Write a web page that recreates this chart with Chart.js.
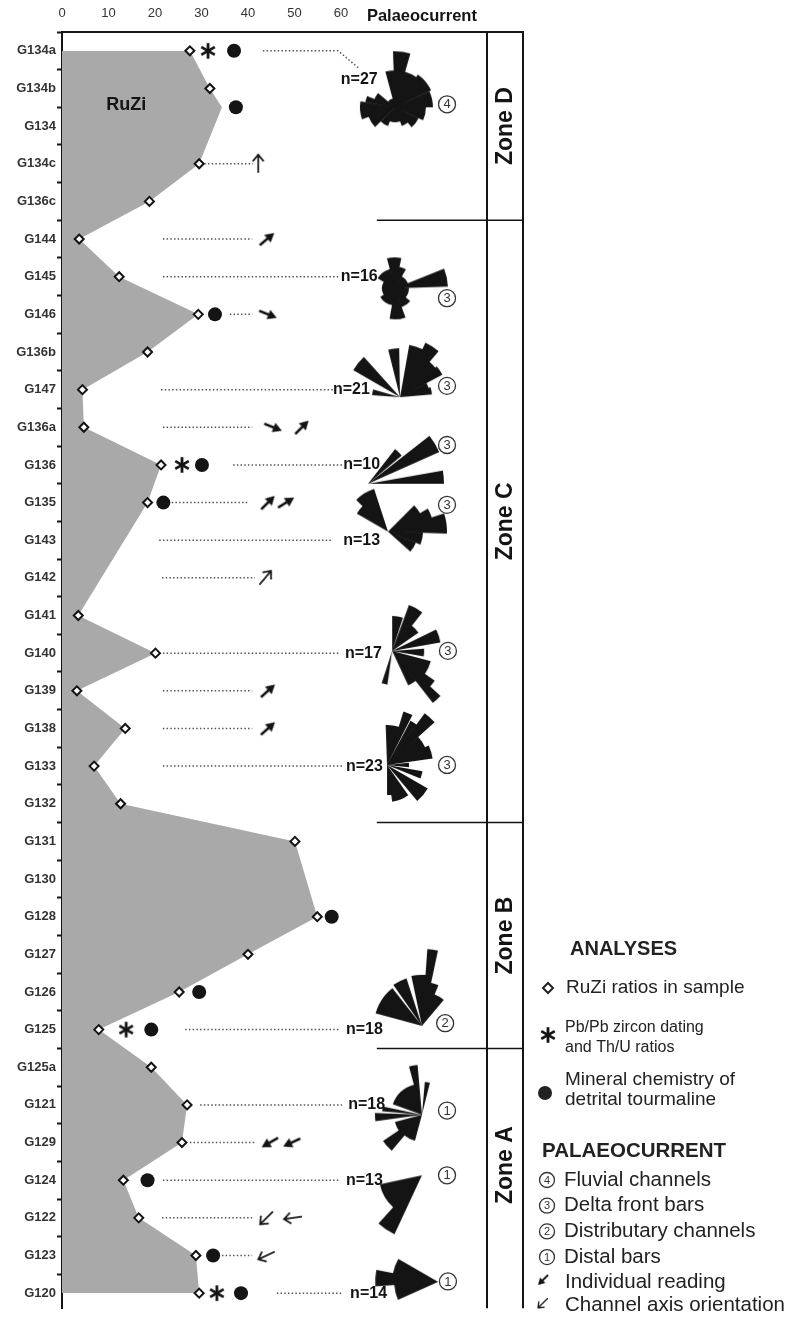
<!DOCTYPE html>
<html>
<head>
<meta charset="utf-8">
<script src="https://cdn.jsdelivr.net/npm/chart.js@4.4.0/dist/chart.umd.min.js"></script>
<style>
  html, body { margin: 0; padding: 0; background: #fff; }
</style>
</head>
<body>
<canvas id="chart" width="786" height="1317"></canvas>
<script>
const FONT = '"Liberation Sans", Arial, Helvetica, sans-serif';

// samples, top to bottom
const samples = ['G134a', 'G134b', 'G134', 'G134c', 'G136c', 'G144', 'G145', 'G146', 'G136b', 'G147',
  'G136a', 'G136', 'G135', 'G143', 'G142', 'G141', 'G140', 'G139', 'G138', 'G133',
  'G132', 'G131', 'G130', 'G128', 'G127', 'G126', 'G125', 'G125a', 'G121', 'G129',
  'G124', 'G122', 'G123', 'G120'];
const ruzi = [27.5, 31.8, 34.4, 29.5, 18.8, 3.7, 12.3, 29.3, 18.4, 4.4,
  4.7, 21.3, 18.4, null, null, 3.5, 20.1, 3.2, 13.6, 6.9,
  12.6, 50.1, null, 54.9, 40.0, 25.2, 7.9, 19.2, 26.9, 25.8,
  13.2, 16.5, 28.8, 29.5];
// in the source G134 sits on the tick above its label and has no diamond
const rowShift = { G134: -0.5 };
const noDiamond = ['G134'];

const zirconSamples = ['G134a', 'G136', 'G125', 'G120'];
const zirconX = [31.4, 25.8, 13.8, 33.3];

const tourmSamples = ['G134a', 'G134', 'G146', 'G136', 'G135', 'G128', 'G126', 'G125', 'G124', 'G123', 'G120'];
const tourmX = [37.0, 37.4, 32.9, 30.1, 21.8, 58.0, 29.5, 19.2, 18.4, 32.5, 38.5];

// dotted leaders
const leaderSamples = ['G134a', 'G134c', 'G144', 'G145', 'G146', 'G147', 'G136a', 'G136', 'G135', 'G143',
  'G142', 'G140', 'G139', 'G138', 'G133', 'G125', 'G121', 'G129', 'G124', 'G122', 'G123', 'G120'];
const leaderFrom = [43.2, 30.6, 21.7, 21.7, 36.1, 21.3, 21.7, 36.8, 23.6, 20.9,
  21.5, 21.7, 21.7, 21.7, 21.7, 26.5, 29.7, 27.5, 21.7, 21.5, 34.4, 46.2];
const leaderTo = [59.4, 41.1, 40.9, 59.4, 40.9, 58.3, 40.9, 60.5, 40.0, 58.0,
  41.5, 59.8, 40.9, 40.9, 60.5, 59.8, 60.2, 41.5, 59.8, 40.9, 40.9, 60.2];
const leaderBend = { G134a: [63.7, 0.45] };

// palaeocurrent single readings (azimuth, degrees clockwise from north)
const readingSamples = ['G144', 'G146', 'G136a', 'G136a', 'G135', 'G135', 'G139', 'G138', 'G129', 'G129'];
const readingX = [44.1, 44.3, 45.4, 51.6, 44.3, 48.2, 44.3, 44.3, 44.7, 49.4];
const readingAz = [50, 112, 112, 45, 45, 58, 48, 48, 240, 245];

const channelSamples = ['G134c', 'G142', 'G122', 'G122', 'G123'];
const channelX = [42.2, 43.7, 44.0, 49.7, 44.0];
const channelAz = [0, 40, 225, 262, 245];

// rose diagrams: petals [fromAz, toAz, length]
const roseN = [27, 16, 21, 10, 13, 17, 23, 18, 18, 13, 14];
const roseX = [71.6, 71.6, 72.7, 65.8, 70.1, 71.0, 69.9, 77.4, 77.4, 77.4, 80.9];
const roseRow = [1.5, 6.31, 9.2, 11.5, 12.77, 15.94, 18.97, 25.9, 28.26, 29.87, 32.7];
const roseLabelX = [67.9, 67.9, 66.2, 68.4, 68.4, 68.8, 69.0, 69.0, 69.5, 69.0, 69.9];
const roseLabelRow = [0.77, 6, 9, 11, 13, 16, 19, 26, 28, 30, 33];
const roseClass = [4, 3, 3, 3, 3, 3, 3, 2, 1, 1, 1];
const classX = [82.8, 82.8, 82.8, 82.8, 82.8, 83.0, 82.8, 82.4, 82.8, 82.8, 83.0];
const classRow = [1.42, 6.57, 8.9, 10.47, 12.06, 15.94, 18.97, 25.83, 28.15, 29.87, 32.69];
const rosePetals = [
  [[-15, -2, 37], [-2, 16, 56], [16, 35, 37], [35, 65, 40], [65, 90, 38], [90, 115, 31], [115, 140, 26],
   [140, 160, 20], [160, 200, 15], [200, 225, 20], [225, 250, 28], [250, 280, 35], [280, 292, 30], [292, 310, 22], [310, 345, 9]],
  [[-15, 12, 31], [12, 30, 22], [30, 68, 14], [68, 88, 53], [88, 130, 14], [130, 160, 20], [160, 190, 31],
   [190, 240, 17], [240, 300, 13], [300, 345, 20]],
  [[274, 286, 28], [300, 318, 54], [346, 359, 49], [10, 25, 53], [25, 40, 60], [40, 50, 46], [50, 62, 48], [62, 72, 30], [72, 85, 32]],
  [[38, 50, 44], [52, 66, 78], [80, 90, 76]],
  [[300, 315, 36], [315, 342, 45], [45, 60, 37], [60, 72, 46], [72, 92, 59], [92, 112, 35], [112, 132, 30]],
  [[0, 18, 35], [20, 38, 49], [38, 55, 32], [64, 80, 49], [86, 100, 32], [105, 125, 40], [125, 133, 52],
   [133, 142, 66], [142, 155, 38], [188, 198, 34]],
  [[-2, 17, 40], [17, 27, 56], [28, 36, 50], [36, 48, 64], [48, 65, 42], [65, 82, 46], [84, 96, 22],
   [100, 112, 36], [120, 140, 47], [145, 172, 37], [172, 180, 30]],
  [[285, 296, 48], [296, 322, 48], [325, 342, 50], [348, 364, 51], [4, 12, 77], [12, 22, 44], [22, 40, 34]],
  [[345, 355, 50], [5, 14, 33], [290, 345, 31], [262, 272, 47], [275, 282, 40], [236, 255, 28], [220, 236, 47], [195, 220, 27]],
  [[205, 222, 65], [222, 258, 43]],
  [[246, 266, 44], [266, 281, 63], [281, 300, 46]]
];
const ROSE_PX = 1;

const zoneNames = ['Zone D', 'Zone C', 'Zone B', 'Zone A'];
const zoneEdges = [-0.5, 4.5, 20.5, 26.5, 32.7];
const xTicks = [0, 10, 20, 30, 40, 50, 60];

const rowOf = s => samples.indexOf(s) + (rowShift[s] || 0);

function roseImage(petals) {
  const r = Math.max(...petals.map(p => p[2])) * ROSE_PX + 2;
  const c = document.createElement('canvas');
  c.width = c.height = Math.ceil(r * 2);
  const g = c.getContext('2d');
  g.translate(c.width / 2, c.height / 2);
  g.fillStyle = '#141414';
  // one path for all petals, so no seams between neighbours
  g.beginPath();
  petals.forEach(([a1, a2, len]) => {
    if (a2 < a1) a2 += 360;
    g.moveTo(0, 0);
    g.arc(0, 0, len * ROSE_PX, (a1 - 90) * Math.PI / 180, (a2 - 90) * Math.PI / 180);
    g.closePath();
  });
  g.fill('nonzero');
  return c;
}

function arrowImage(open) {
  const c = document.createElement('canvas');
  c.width = 24; c.height = 24;
  const g = c.getContext('2d');
  g.strokeStyle = g.fillStyle = '#141414';
  if (open) {
    g.lineWidth = 1.7;
    g.beginPath(); g.moveTo(12, 21); g.lineTo(12, 3.5); g.stroke();
    g.lineWidth = 1.9;
    g.beginPath(); g.moveTo(6.5, 9.5); g.lineTo(12, 3); g.lineTo(17.5, 9.5); g.stroke();
  } else {
    g.lineWidth = 2.6;
    g.beginPath(); g.moveTo(12, 21.5); g.lineTo(12, 9); g.stroke();
    g.beginPath(); g.moveTo(12, 2.5); g.lineTo(17, 11.5); g.lineTo(7, 11.5); g.closePath(); g.fill();
  }
  return c;
}

function asteriskImage() {
  const c = document.createElement('canvas');
  c.width = c.height = 20;
  const g = c.getContext('2d');
  g.strokeStyle = '#141414';
  g.lineWidth = 2.8;
  for (let k = 0; k < 3; k++) {
    const a = k * Math.PI / 3;
    g.beginPath();
    g.moveTo(10 + 7.8 * Math.sin(a), 10 - 7.8 * Math.cos(a));
    g.lineTo(10 - 7.8 * Math.sin(a), 10 + 7.8 * Math.cos(a));
    g.stroke();
  }
  return c;
}

const roseImgs = rosePetals.map(roseImage);
const filledArrow = arrowImage(false);
const openArrow = arrowImage(true);
const asterisk = asteriskImage();

function circled(ctx, cx, cy, r, digit, size) {
  ctx.beginPath();
  ctx.arc(cx, cy, r, 0, Math.PI * 2);
  ctx.lineWidth = 1.3;
  ctx.strokeStyle = '#333';
  ctx.stroke();
  ctx.font = size + 'px ' + FONT;
  ctx.fillStyle = '#333';
  ctx.textAlign = 'center';
  ctx.textBaseline = 'middle';
  ctx.fillText(digit, cx, cy + 0.5);
}

const decor = {
  id: 'decor',
  afterDraw(chart) {
    const { ctx, chartArea: a, scales: { x, y } } = chart;
    const colR = a.right + 36;
    ctx.save();
    ctx.strokeStyle = '#141414';
    ctx.lineWidth = 2;
    ctx.beginPath();
    ctx.moveTo(a.right, a.top); ctx.lineTo(a.right, a.bottom);
    ctx.moveTo(a.right, a.top); ctx.lineTo(colR, a.top);
    ctx.moveTo(colR, a.top - 1); ctx.lineTo(colR, a.bottom);
    ctx.stroke();

    // zone separators
    ctx.lineWidth = 1.5;
    zoneEdges.slice(1, -1).forEach(e => {
      const py = y.getPixelForValue(e);
      ctx.beginPath();
      ctx.moveTo(x.getPixelForValue(67.7), py);
      ctx.lineTo(colR, py);
      ctx.stroke();
    });
    ctx.fillStyle = '#141414';
    ctx.font = 'bold 23px ' + FONT;
    ctx.textAlign = 'center';
    ctx.textBaseline = 'middle';
    zoneNames.forEach((z, i) => {
      const py = (y.getPixelForValue(zoneEdges[i]) + y.getPixelForValue(zoneEdges[i + 1])) / 2;
      ctx.save();
      ctx.translate(a.right + 19, py);
      ctx.rotate(-Math.PI / 2);
      ctx.fillText(z, 0, 0);
      ctx.restore();
    });

    // headers
    ctx.font = 'bold 16.5px ' + FONT;
    ctx.fillText('Palaeocurrent', x.getPixelForValue(77.4), a.top - 16);
    ctx.font = 'bold 18px ' + FONT;
    ctx.textAlign = 'left';
    ctx.fillText('RuZi', x.getPixelForValue(9.5), y.getPixelForValue(1.45));

    // rose labels
    ctx.font = 'bold 16px ' + FONT;
    ctx.textAlign = 'right';
    roseN.forEach((n, i) => {
      ctx.fillStyle = '#141414';
      ctx.fillText('n=' + n, x.getPixelForValue(roseLabelX[i]), y.getPixelForValue(roseLabelRow[i]));
    });
    roseClass.forEach((c, i) => {
      circled(ctx, x.getPixelForValue(classX[i]), y.getPixelForValue(classRow[i]), 8.5, String(c), 13);
    });

    // legend
    ctx.fillStyle = '#222';
    ctx.textAlign = 'left';
    ctx.textBaseline = 'middle';
    ctx.font = 'bold 20px ' + FONT;
    ctx.fillText('ANALYSES', 570, 949);
    ctx.beginPath();
    ctx.moveTo(548, 983); ctx.lineTo(553, 988); ctx.lineTo(548, 993); ctx.lineTo(543, 988); ctx.closePath();
    ctx.fillStyle = '#fff'; ctx.fill();
    ctx.lineWidth = 2; ctx.strokeStyle = '#222'; ctx.stroke();
    ctx.fillStyle = '#222';
    ctx.font = '19px ' + FONT;
    ctx.fillText('RuZi ratios in sample', 566, 988);
    ctx.drawImage(asterisk, 538, 1025);
    ctx.font = '16px ' + FONT;
    ctx.fillText('Pb/Pb zircon dating', 565, 1028);
    ctx.fillText('and Th/U ratios', 565, 1048);
    ctx.beginPath(); ctx.arc(545, 1093, 7, 0, Math.PI * 2); ctx.fill();
    ctx.font = '19px ' + FONT;
    ctx.fillText('Mineral chemistry of', 565, 1080);
    ctx.fillText('detrital tourmaline', 565, 1100);
    ctx.font = 'bold 20.5px ' + FONT;
    ctx.fillText('PALAEOCURRENT', 542, 1151);
    const items = [['4', 'Fluvial channels'], ['3', 'Delta front bars'], ['2', 'Distributary channels'], ['1', 'Distal bars']];
    items.forEach(([d, t], i) => {
      const py = 1180 + i * 25.7;
      circled(ctx, 547, py, 7.5, d, 11);
      ctx.fillStyle = '#222';
      ctx.textAlign = 'left';
      ctx.font = '20.5px ' + FONT;
      ctx.fillText(t, 564, py);
    });
    [[filledArrow, 1280, 'Individual reading'], [openArrow, 1303, 'Channel axis orientation']].forEach(([img, py, t]) => {
      ctx.save();
      ctx.translate(543, py);
      ctx.rotate(225 * Math.PI / 180);
      ctx.scale(0.75, 0.75);
      ctx.drawImage(img, -12, -12);
      ctx.restore();
      ctx.fillText(t, 565, py + 2);
    });
    ctx.restore();
  }
};

const outline = samples.map((s, i) => ruzi[i] == null ? null : { x: ruzi[i], y: rowOf(s) }).filter(Boolean);
const diamonds = samples.map((s, i) => ruzi[i] == null || noDiamond.includes(s) ? null : { x: ruzi[i], y: rowOf(s) }).filter(Boolean);

const datasets = [];
datasets.push({ label: 'RuZi', data: outline, fill: 'origin', backgroundColor: '#a9a9a9', borderWidth: 0, pointRadius: 0, order: 10 });
leaderSamples.forEach((s, i) => {
  const pts = [{ x: leaderFrom[i], y: rowOf(s) }, { x: leaderTo[i], y: rowOf(s) }];
  if (leaderBend[s]) pts.push({ x: leaderBend[s][0], y: rowOf(s) + leaderBend[s][1] });
  datasets.push({ data: pts, borderColor: '#555', borderWidth: 1.5, borderDash: [1.5, 2.2], pointRadius: 0, fill: false, order: 6 });
});
datasets.push({
  label: 'roses', data: roseX.map((v, i) => ({ x: v, y: roseRow[i] })), showLine: false,
  pointStyle: c => roseImgs[c.dataIndex], pointRadius: 1, clip: false, order: 4
});
datasets.push({
  label: 'RuZi ratios', data: diamonds, showLine: false, pointStyle: 'rectRot', pointRadius: 4.5,
  pointBorderWidth: 2, pointBackgroundColor: '#fff', pointBorderColor: '#141414', order: 1
});
datasets.push({
  label: 'tourmaline', data: tourmSamples.map((s, i) => ({ x: tourmX[i], y: rowOf(s) })), showLine: false,
  pointStyle: 'circle', pointRadius: 7, pointBorderWidth: 0, pointBackgroundColor: '#141414', order: 1
});
datasets.push({
  label: 'zircon', data: zirconSamples.map((s, i) => ({ x: zirconX[i], y: rowOf(s) })), showLine: false,
  pointStyle: asterisk, pointRadius: 1, order: 1
});
datasets.push({
  label: 'reading', data: readingSamples.map((s, i) => ({ x: readingX[i], y: rowOf(s), rot: readingAz[i] })), showLine: false,
  pointStyle: filledArrow, pointRotation: c => c.raw.rot, pointRadius: 1, clip: false, order: 1
});
datasets.push({
  label: 'channel', data: channelSamples.map((s, i) => ({ x: channelX[i], y: rowOf(s), rot: channelAz[i] })), showLine: false,
  pointStyle: openArrow, pointRotation: c => c.raw.rot, pointRadius: 1, clip: false, order: 1
});

new Chart(document.getElementById('chart'), {
  type: 'line',
  data: { datasets },
  options: {
    responsive: false,
    animation: false,
    events: [],
    indexAxis: 'y',
    layout: { padding: { left: 0, top: 0, right: 299, bottom: 0 } },
    plugins: { legend: { display: false }, tooltip: { enabled: false } },
    scales: {
      x: {
        type: 'linear', position: 'top', min: 0, max: 91.4,
        afterBuildTicks: s => { s.ticks = xTicks.map(v => ({ value: v })); },
        afterFit: s => { s.height = 32; },
        grid: { display: false, drawTicks: false },
        border: { display: true, color: '#141414', width: 2 },
        ticks: { font: { family: FONT, size: 13 }, color: '#333', padding: 11 }
      },
      y: {
        type: 'linear', reverse: true, min: -0.5, max: 33.4,
        afterBuildTicks: s => { s.ticks = samples.map((_, i) => ({ value: i })); },
        afterFit: s => { s.width = 62; },
        grid: { offset: true, drawOnChartArea: false, drawTicks: true, tickLength: 5, tickWidth: 2, tickColor: '#141414', color: '#141414' },
        border: { display: true, color: '#141414', width: 2 },
        ticks: { callback: (v, i) => samples[i], autoSkip: false, font: { family: FONT, size: 13, weight: 'bold' }, color: '#333', padding: 1 }
      }
    }
  },
  plugins: [decor]
});
</script>
</body>
</html>
